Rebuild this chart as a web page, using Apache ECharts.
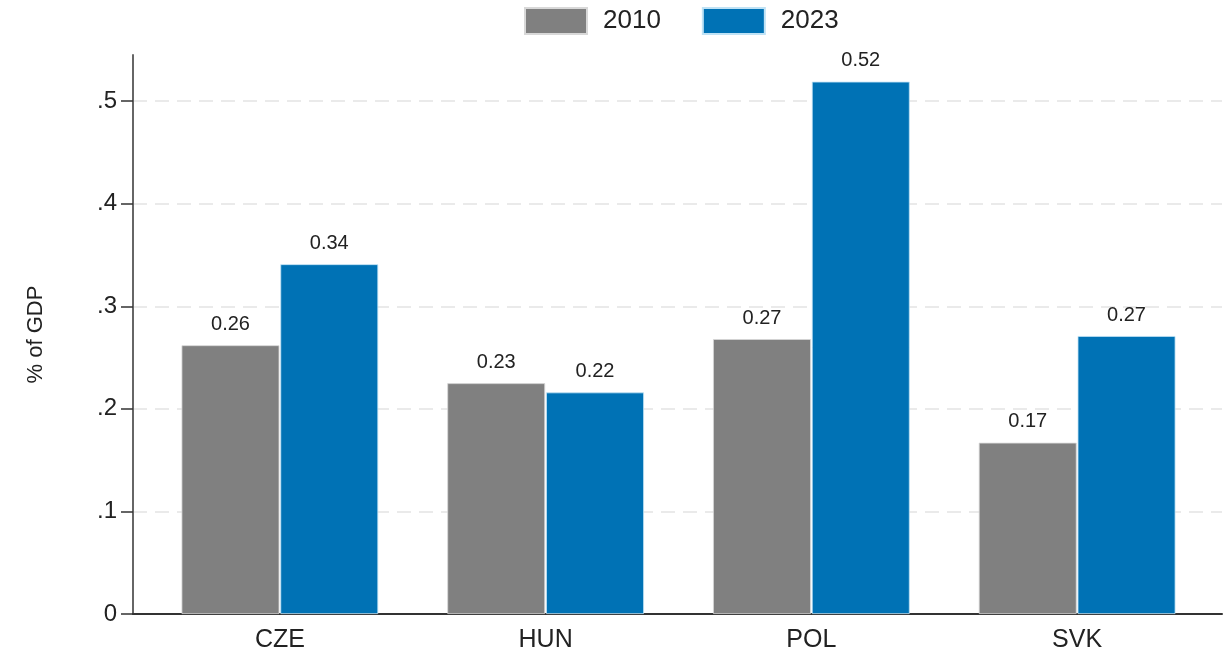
<!DOCTYPE html>
<html><head><meta charset="utf-8">
<script src="https://cdn.jsdelivr.net/npm/echarts@6/dist/echarts.min.js"></script>
<style>html,body{margin:0;padding:0;background:#fff}#c{width:1225px;height:654px}</style>
</head><body><div id="c"></div>
<script>
const categories = ['CZE', 'HUN', 'POL', 'SVK'];
const values2010 = [0.262, 0.225, 0.268, 0.167];
const values2023 = [0.341, 0.216, 0.519, 0.271];
const yTicks = [0, 0.1, 0.2, 0.3, 0.4, 0.5];
const yTickLabels = ['0', '.1', '.2', '.3', '.4', '.5'];

const chart = echarts.init(document.getElementById('c'));
const font = 'Liberation Sans, Arial, sans-serif';
const labelCfg = {show: true, position: 'top', distance: 11, color: '#222', fontSize: 20, fontFamily: font,
  formatter: p => p.value.toFixed(2)};
chart.setOption({
  animation: false,
  legend: {top: 2, left: 519, itemWidth: 62, itemHeight: 26, itemGap: 41, icon: 'rect',
    textStyle: {fontSize: 26, color: '#222', fontFamily: font, padding: [0, 0, 0, 11]},
    data: ['2010', '2023']},
  grid: [
    {left: 147, right: 15, top: 55, bottom: 40},
    {left: 133, right: 3, top: 55, bottom: 40}
  ],
  xAxis: [
    {type: 'category', gridIndex: 0, data: categories, axisLine: {show: false}, axisTick: {show: false},
     axisLabel: {fontSize: 25, color: '#222', fontFamily: font, margin: 14}},
    {type: 'value', gridIndex: 1, min: 0, max: 1, axisLine: {show: true, lineStyle: {color: '#333', width: 2}},
     axisTick: {show: false}, axisLabel: {show: false}, splitLine: {show: false}}
  ],
  yAxis: [
    {type: 'value', gridIndex: 0, min: 0, max: 0.545, show: false},
    {type: 'value', gridIndex: 1, min: 0, max: 0.545, interval: 0.1,
     axisLine: {show: true, lineStyle: {color: '#666', width: 2}},
     axisTick: {show: true, length: 12, customValues: yTicks, lineStyle: {color: '#333', width: 1.5}},
     axisLabel: {fontSize: 24, color: '#222', fontFamily: font, margin: 16, customValues: yTicks,
       formatter: v => { const i = yTicks.findIndex(t => Math.abs(t - v) < 1e-6); return i >= 0 ? yTickLabels[i] : ''; }},
     splitLine: {show: true, showMinLine: false, showMaxLine: true,
       lineStyle: {color: '#e3e3e3', type: [14, 8], width: 1.5}},
     name: '% of GDP', nameLocation: 'middle', nameGap: 86,
     nameTextStyle: {fontSize: 22, color: '#222', fontFamily: font}}
  ],
  series: [
    {name: '2010', type: 'bar', xAxisIndex: 0, yAxisIndex: 0, data: values2010, barGap: '1%', barCategoryGap: '26%',
     itemStyle: {color: '#808080', borderColor: '#d8d8d8', borderWidth: 0.8}, label: labelCfg},
    {name: '2023', type: 'bar', xAxisIndex: 0, yAxisIndex: 0, data: values2023,
     itemStyle: {color: '#0072b5', borderColor: '#bfe2f5', borderWidth: 0.8}, label: labelCfg}
  ]
});
</script></body></html>
